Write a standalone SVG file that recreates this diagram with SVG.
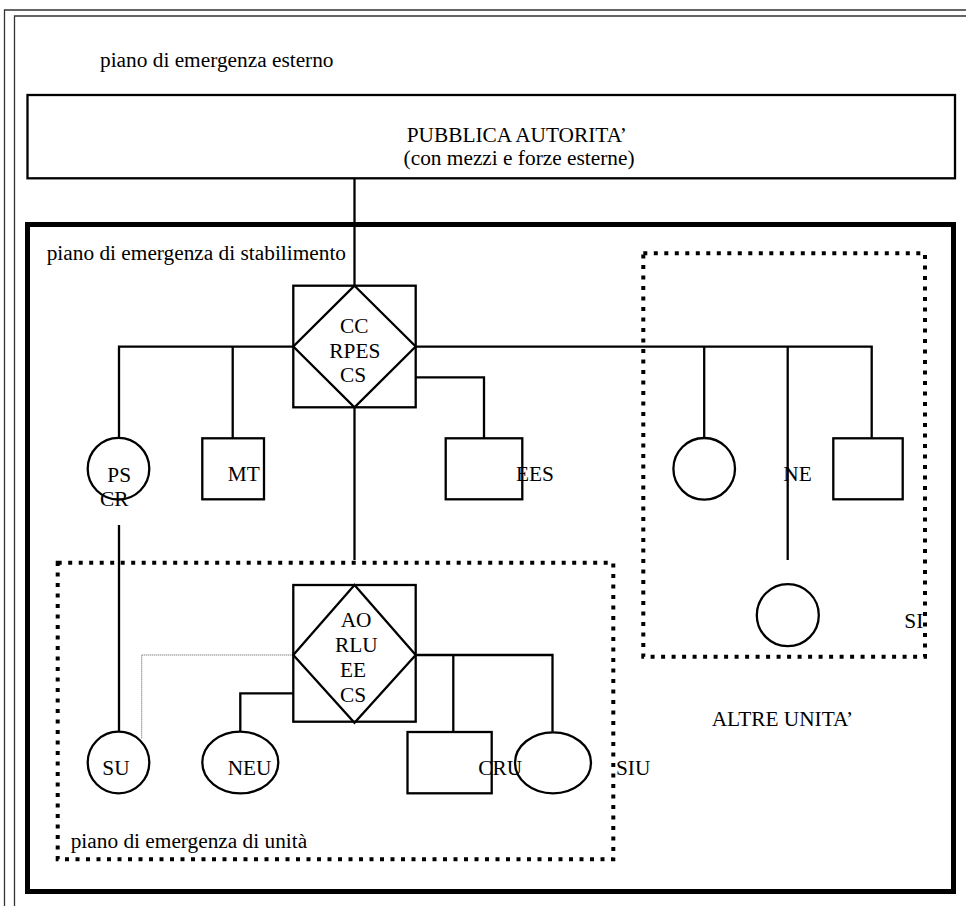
<svg xmlns="http://www.w3.org/2000/svg" width="966" height="906" viewBox="0 0 966 906">
<style>
text{font-family:"Liberation Serif","Times New Roman",serif;font-size:21.33px;fill:#000}
.ln{fill:none;stroke:#000;stroke-width:2.3}
.sh{fill:none;stroke:#000;stroke-width:2.3}
.frame{fill:none;stroke:#333;stroke-width:1.3}
.thick{fill:none;stroke:#000;stroke-width:5}
.dot{fill:none;stroke:#000;stroke-width:4;stroke-dasharray:4 6.5}
.thin{fill:none;stroke:#555;stroke-width:1;stroke-dasharray:1 1}
</style>
<rect width="966" height="906" fill="#fff"/>
<g id="page-frame">
<path class="frame" d="M4.5 906 V10 H966"/>
<path class="frame" d="M14.5 906 V16 H966"/>
<text x="100" y="67">piano di emergenza esterno</text>
</g>
<g id="stabilimento-frame">
<rect class="thick" x="27.5" y="224.5" width="926" height="667"/>
<text x="46.7" y="259.5">piano di emergenza di stabilimento</text>
</g>
<g id="unita-frame">
<rect class="dot" x="57.7" y="562.7" width="555.6" height="296.6"/>
<text x="70.7" y="848.3">piano di emergenza di unità</text>
</g>
<g id="si-frame">
<rect class="dot" x="643.3" y="253.3" width="281.7" height="403.4"/>
</g>
<g id="connectors">
<path class="ln" d="M354.5 178.3 V285.7"/>
<path class="ln" d="M293.3 346.7 H119 V438"/>
<path class="ln" d="M232.7 346.7 V438.3"/>
<path class="ln" d="M415.7 346.7 H871.7 V438.3"/>
<path class="ln" d="M704.2 346.7 V438.3"/>
<path class="ln" d="M787.7 346.7 V560"/>
<path class="ln" d="M415.7 377.3 H484 V438.3"/>
<path class="ln" d="M354.5 407.3 V560"/>
<path class="ln" d="M119 525 V731.7"/>
<path class="thin" d="M293.3 655 H141.7 V738.3"/>
<path class="ln" d="M293.3 693.3 H240.3 V731.7"/>
<path class="ln" d="M415.7 655 H552.5 V731.7"/>
<path class="ln" d="M453.3 655 V732"/>
</g>
<g id="pubblica-autorita">
<rect class="sh" x="27.5" y="95" width="927.5" height="83.3"/>
<text x="406.7" y="141.7">PUBBLICA AUTORITA’</text>
<text x="403.6" y="165">(con mezzi e forze esterne)</text>
</g>
<g id="cc-rpes-cs">
<rect class="sh" x="293.3" y="285.7" width="122.4" height="121.6"/>
<polygon class="sh" points="354.5,285.7 415.7,346.5 354.5,407.3 293.3,346.5"/>
<text x="340" y="333.3">CC</text>
<text x="329.3" y="357.8">RPES</text>
<text x="340" y="382.3">CS</text>
</g>
<g id="ps-cr">
<circle class="sh" cx="118.5" cy="468.7" r="30.8"/>
<text x="107.3" y="481.7">PS</text>
<text x="100" y="505.5">CR</text>
</g>
<g id="mt">
<rect class="sh" x="202.3" y="438.3" width="61.7" height="61"/>
<text x="227.7" y="481">MT</text>
</g>
<g id="ees">
<rect class="sh" x="445.7" y="438.3" width="76.6" height="61"/>
<text x="516" y="481">EES</text>
</g>
<g id="si-circle">
<circle class="sh" cx="704.2" cy="468.8" r="30.8"/>
</g>
<g id="ne">
<text x="783.3" y="481">NE</text>
</g>
<g id="si-square">
<rect class="sh" x="833.3" y="438.3" width="69.4" height="61"/>
</g>
<g id="ne-circle">
<circle class="sh" cx="787.8" cy="615.2" r="31"/>
</g>
<g id="si-label">
<text x="904.3" y="628.3">SI</text>
</g>
<g id="altre-unita">
<text x="711.7" y="726">ALTRE UNITA’</text>
</g>
<g id="ao-rlu-ee-cs">
<rect class="sh" x="293.3" y="585" width="122.4" height="136.7"/>
<polygon class="sh" points="354.5,585 415.7,655 354.5,722.7 293.3,655"/>
<text x="340.7" y="627.3">AO</text>
<text x="335" y="651.8">RLU</text>
<text x="340" y="676.5">EE</text>
<text x="340" y="701.5">CS</text>
</g>
<g id="su">
<circle class="sh" cx="118.5" cy="762.5" r="30.8"/>
<text x="102.3" y="775">SU</text>
</g>
<g id="neu">
<ellipse class="sh" cx="240.3" cy="762.5" rx="38" ry="30.8"/>
<text x="227.7" y="775">NEU</text>
</g>
<g id="cru">
<rect class="sh" x="407.5" y="732" width="84.2" height="61.3"/>
<text x="478.3" y="774.5">CRU</text>
</g>
<g id="siu-ellipse">
<ellipse class="sh" cx="553" cy="762.8" rx="38" ry="30.5"/>
</g>
<g id="siu">
<text x="616" y="775">SIU</text>
</g>
</svg>
